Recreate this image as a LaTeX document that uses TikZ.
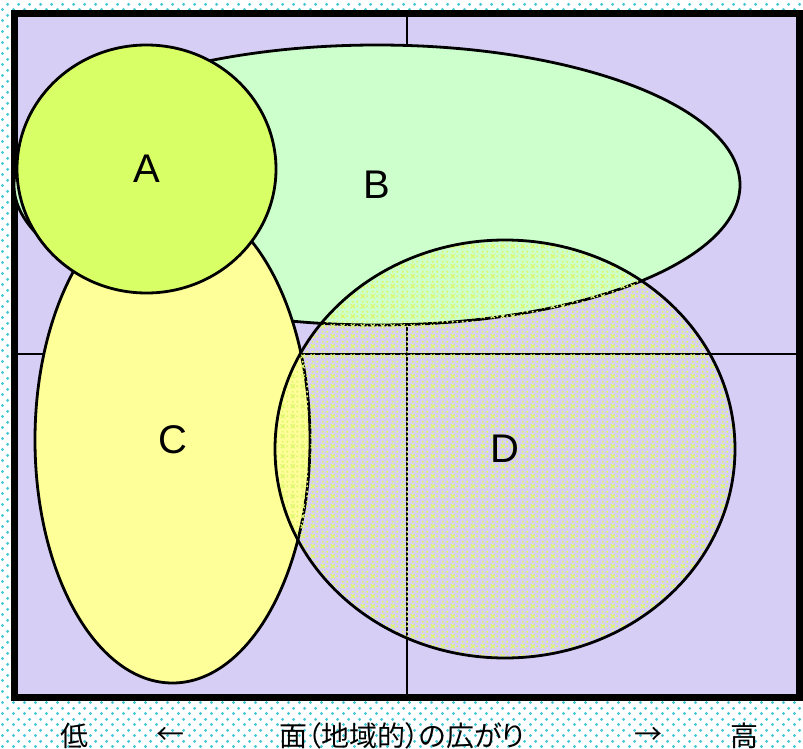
\documentclass[tikz,border=0pt]{standalone}
\usepackage{fontspec}
\setmainfont{Liberation Sans}
\newfontfamily\jpfont[RawFeature=+palt]{Noto Sans CJK JP}
\usepackage{tikz}
\usetikzlibrary{shapes.geometric,patterns,patterns.meta,positioning}

\definecolor{panelpurple}{RGB}{214,206,244}
\definecolor{dotcyan}{RGB}{70,200,215}
\definecolor{zoneA}{RGB}{217,255,102}
\definecolor{zoneB}{RGB}{204,255,204}
\definecolor{zoneC}{RGB}{255,255,153}
\definecolor{zoneD}{RGB}{222,248,110}

\tikzdeclarepattern{
  name=bgdots,
  bounding box={(0pt,0pt) and (10.6pt,10.6pt)},
  tile size={(10.6pt,10.6pt)},
  code={
    \fill (2.6pt,2.6pt) circle (1.6pt);
    \fill (7.9pt,7.9pt) circle (1.6pt);
  }
}
\tikzdeclarepattern{
  name=crossdots,
  bounding box={(0pt,0pt) and (10pt,10pt)},
  tile size={(10pt,10pt)},
  code={
    \draw [line width=1.3pt] (0.8pt,0.8pt) -- (5.2pt,5.2pt);
    \draw [line width=1.3pt] (0.8pt,5.2pt) -- (5.2pt,0.8pt);
    \fill (8pt,3pt) circle (1.2pt);
    \fill (3pt,8pt) circle (1.2pt);
    \fill (8pt,8pt) circle (1.2pt);
  }
}

\begin{document}
\begin{tikzpicture}[x=1pt, y=-1pt,
    zone/.style={ellipse, draw=black, line width=2.8pt, inner sep=0pt,
    font=\fontsize{40}{40}\selectfont},
    axislabel/.style={inner sep=0pt, font=\jpfont\fontsize{28}{28}\selectfont}]
    % background and bounding box
    \fill[white] (0,0) rectangle (803,749);
    \fill[pattern=bgdots, pattern color=dotcyan] (0,0) rectangle (803,749);
    \useasboundingbox (0,0) rectangle (803,749);

    \node (frame) [draw=black, fill=panelpurple, line width=6.5pt, inner sep=0pt,
        minimum width=785pt, minimum height=684pt] at (407,355.5) {};
    \draw [line width=2.6pt] (frame.north) -- (frame.south);
    \draw [line width=2.6pt] (frame.west |- 0,354) -- (frame.east |- 0,354);

    \node (B) [zone, fill=zoneB, minimum width=726pt, minimum height=280pt] at (377,185) {B};
    \node (C) [zone, fill=zoneC, minimum width=275pt, minimum height=486pt] at (172.5,440) {C};
    \node (A) [zone, fill=zoneA, minimum width=259pt, minimum height=248pt] at (146.5,169) {A};
    \node (D) [zone, pattern=crossdots, pattern color=zoneD,
        minimum width=460pt, minimum height=418pt] at (505,449) {D};

    \node (low) [axislabel] at (74,736) {低};
    \node (larrow) [axislabel] at (170,736) {←};
    \node (spread) [axislabel] at (402,736) {面（地域的）の広がり};
    \node (rarrow) [axislabel] at (648,736) {→};
    \node (high) [axislabel] at (744,736) {高};
\end{tikzpicture}
\end{document}
